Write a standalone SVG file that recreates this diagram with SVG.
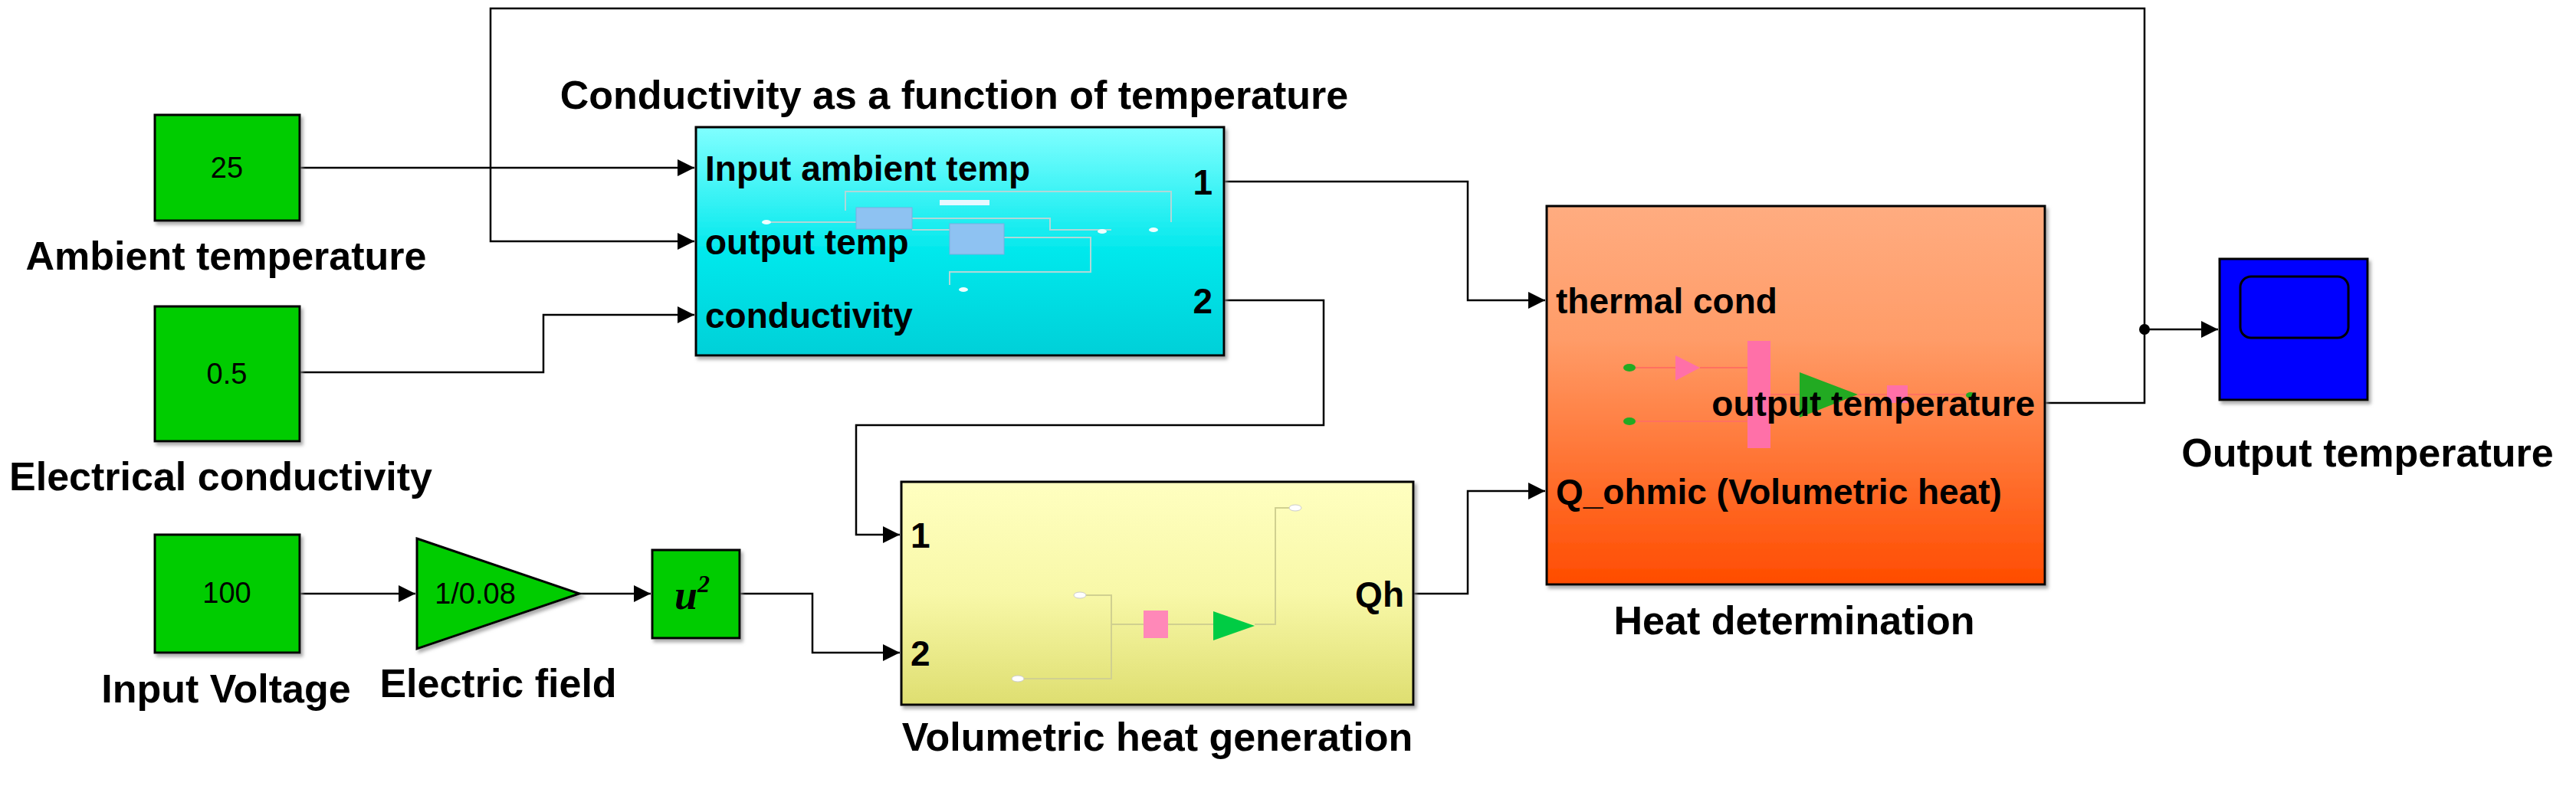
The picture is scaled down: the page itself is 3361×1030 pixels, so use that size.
<svg xmlns="http://www.w3.org/2000/svg" width="3361" height="1030" viewBox="0 0 3361 1030">
<style>
.w{fill:none;stroke:#000;stroke-width:2.5}
.lb{font-family:"Liberation Sans",Arial,sans-serif;font-weight:bold;font-size:52px;fill:#000}
.pt{font-family:"Liberation Sans",Arial,sans-serif;font-weight:bold;font-size:46px;fill:#000}
.num{font-family:"Liberation Sans",Arial,sans-serif;font-size:38px;fill:#000}
.cst{fill:#00CC00;stroke:#000;stroke-width:3;filter:url(#sh)}
.fl{fill:none;stroke:#B0D8D8;stroke-width:2}
</style>
<defs>
<marker id="a" viewBox="0 0 10 10" refX="10" refY="5" markerWidth="22" markerHeight="22" markerUnits="userSpaceOnUse" orient="auto"><path d="M0 0L10 5L0 10z" fill="#000"/></marker>
<filter id="sh" x="-10%" y="-10%" width="130%" height="130%"><feDropShadow dx="3" dy="4" stdDeviation="2" flood-color="#888" flood-opacity="0.7"/></filter>
<linearGradient id="gc" x1="0" y1="0" x2="0" y2="1"><stop offset="0" stop-color="#80FFFF"/><stop offset="0.55" stop-color="#00E8EC"/><stop offset="1" stop-color="#00D0D8"/></linearGradient>
<linearGradient id="gy" x1="0" y1="0" x2="0" y2="1"><stop offset="0" stop-color="#FFFFC0"/><stop offset="0.5" stop-color="#F8F8A8"/><stop offset="1" stop-color="#DEDE70"/></linearGradient>
<linearGradient id="go" x1="0" y1="0" x2="0" y2="1"><stop offset="0" stop-color="#FFAC80"/><stop offset="0.35" stop-color="#FF9C68"/><stop offset="1" stop-color="#FF4C00"/></linearGradient>
</defs>
<rect width="3361" height="1030" fill="#fff"/>
<g id="connectors">
<path class="w" d="M391 219H906" marker-end="url(#a)"/>
<path class="w" d="M391 486H709V411H906" marker-end="url(#a)"/>
<path class="w" d="M391 775H542" marker-end="url(#a)"/>
<path class="w" d="M756 775H849" marker-end="url(#a)"/>
<path class="w" d="M965 775H1060V852H1174" marker-end="url(#a)"/>
<path class="w" d="M1597 392H1727V555H1117V698H1174" marker-end="url(#a)"/>
<path class="w" d="M1597 237H1915V392H2016" marker-end="url(#a)"/>
<path class="w" d="M1844 775H1915V641H2016" marker-end="url(#a)"/>
<path class="w" d="M2668 526H2798V11H640V315H906" marker-end="url(#a)"/>
<path class="w" d="M2798 430H2894" marker-end="url(#a)"/>
<circle cx="2798" cy="430" r="7" fill="#000"/>
</g>
<g id="ambient">
<rect class="cst" x="202" y="150" width="189" height="138"/>
<text class="num" x="296" y="232" text-anchor="middle">25</text>
<text class="lb" x="295" y="352" text-anchor="middle">Ambient temperature</text>
</g>
<g id="electrical">
<rect class="cst" x="202" y="400" width="189" height="176"/>
<text class="num" x="296" y="501" text-anchor="middle">0.5</text>
<text class="lb" x="288" y="640" text-anchor="middle">Electrical conductivity</text>
</g>
<g id="voltage">
<rect class="cst" x="202" y="698" width="189" height="154"/>
<text class="num" x="296" y="787" text-anchor="middle">100</text>
<text class="lb" x="295" y="917" text-anchor="middle">Input Voltage</text>
</g>
<g id="efield">
<path d="M544 703L756 775L544 847Z" fill="#00CC00" stroke="#000" stroke-width="3" filter="url(#sh)"/>
<text class="num" x="620" y="788" text-anchor="middle">1/0.08</text>
<text class="lb" x="650" y="910" text-anchor="middle">Electric field</text>
</g>
<g id="usq">
<rect class="cst" x="851" y="718" width="114" height="115"/>
<text x="903" y="795" text-anchor="middle" font-family="Liberation Serif,serif" font-style="italic" font-weight="bold" font-size="54">u<tspan font-size="32" dy="-22">2</tspan></text>
</g>
<g id="conductivity">
<text class="lb" x="1245" y="142" text-anchor="middle">Conductivity as a function of temperature</text>
<rect x="908" y="166" width="689" height="298" fill="url(#gc)" stroke="#000" stroke-width="3" filter="url(#sh)"/>
<path class="fl" d="M1103 275V250H1528V290M1000 290H1117M1190 285H1370V300H1450M1190 300H1239M1310 310H1423V355H1239V372"/>
<rect x="1117" y="271" width="73" height="28" fill="#8EC2F2" stroke="#7AAEE0"/>
<rect x="1239" y="292" width="71" height="40" fill="#8EC2F2" stroke="#7AAEE0"/>
<rect x="1226" y="261" width="65" height="7" fill="#E8F8FF"/>
<ellipse cx="1000" cy="290" rx="6" ry="3" fill="#EFF"/><ellipse cx="1438" cy="302" rx="6" ry="3" fill="#EFF"/><ellipse cx="1505" cy="300" rx="6" ry="3" fill="#EFF"/><ellipse cx="1257" cy="378" rx="6" ry="3" fill="#EFF"/>
<text class="pt" x="920" y="236">Input ambient temp</text>
<text class="pt" x="920" y="332">output temp</text>
<text class="pt" x="920" y="428">conductivity</text>
<text class="pt" x="1582" y="254" text-anchor="end">1</text>
<text class="pt" x="1582" y="409" text-anchor="end">2</text>
</g>
<g id="volumetric">
<rect x="1176" y="629" width="668" height="291" fill="url(#gy)" stroke="#000" stroke-width="3" filter="url(#sh)"/>
<path d="M1409 777H1450V815H1492M1328 886H1450V815M1524 815H1583M1637 815H1664V663H1682" fill="none" stroke="#D0D090" stroke-width="2"/>
<rect x="1492" y="797" width="32" height="36" fill="#FF88B8"/>
<path d="M1583 798L1637 817L1583 836Z" fill="#00CC44"/>
<ellipse cx="1409" cy="777" rx="8" ry="4" fill="#fff" stroke="#CCC"/><ellipse cx="1328" cy="886" rx="8" ry="4" fill="#fff" stroke="#CCC"/><ellipse cx="1690" cy="663" rx="8" ry="4" fill="#fff" stroke="#CCC"/>
<text class="pt" x="1188" y="715">1</text>
<text class="pt" x="1188" y="869">2</text>
<text class="pt" x="1832" y="792" text-anchor="end">Qh</text>
<text class="lb" x="1510" y="980" text-anchor="middle">Volumetric heat generation</text>
</g>
<g id="heat">
<rect x="2018" y="269" width="650" height="494" fill="url(#go)" stroke="#000" stroke-width="3" filter="url(#sh)"/>
<path d="M2126 480H2186M2218 480H2280M2126 550H2280M2310 515H2348M2424 515H2462M2489 515H2571" fill="none" stroke="#FF7060" stroke-width="2"/>
<rect x="2280" y="445" width="30" height="140" fill="#FF70A8"/>
<path d="M2186 464L2218 480L2186 497Z" fill="#FF70A8"/>
<path d="M2348 486L2424 515L2348 545Z" fill="#22AA22"/>
<rect x="2462" y="503" width="27" height="23" fill="#FF70A8"/>
<ellipse cx="2126" cy="480" rx="8" ry="5" fill="#22AA22"/><ellipse cx="2126" cy="550" rx="8" ry="5" fill="#22AA22"/><ellipse cx="2571" cy="516" rx="6" ry="4" fill="#22AA22"/>
<text class="pt" x="2030" y="409">thermal cond</text>
<text class="pt" x="2030" y="658">Q_ohmic (Volumetric heat)</text>
<text class="pt" x="2655" y="543" text-anchor="end">output temperature</text>
<text class="lb" x="2341" y="828" text-anchor="middle">Heat determination</text>
</g>
<g id="scope">
<rect x="2896" y="338" width="193" height="184" fill="#0000FF" stroke="#000" stroke-width="3" filter="url(#sh)"/>
<rect x="2923" y="361" width="141" height="80" rx="14" fill="#0000FF" stroke="#000" stroke-width="3"/>
<text class="lb" x="3089" y="609" text-anchor="middle">Output temperature</text>
</g>
</svg>
